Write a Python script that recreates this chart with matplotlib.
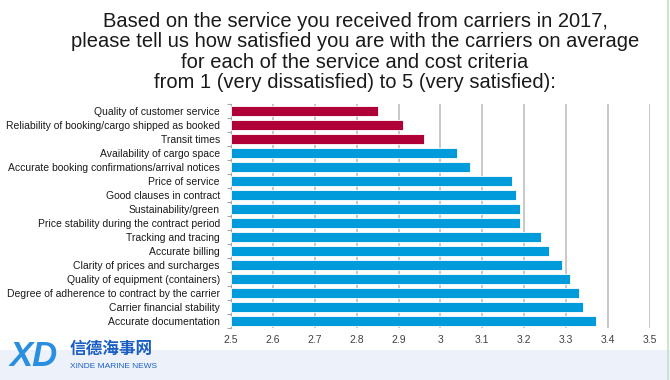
import matplotlib.pyplot as plt
from matplotlib.lines import Line2D
from matplotlib.patches import Rectangle

plt.rcParams['font.family'] = ['Liberation Sans', 'Noto Sans CJK SC', 'DejaVu Sans']

# 数据（从上到下）
categories = [
    'Quality of customer service',
    'Reliability of booking/cargo shipped as booked',
    'Transit times',
    'Availability of cargo space',
    'Accurate booking confirmations/arrival notices',
    'Price of service',
    'Good clauses in contract',
    'Sustainability/green',
    'Price stability during the contract period',
    'Tracking and tracing',
    'Accurate billing',
    'Clarity of prices and surcharges',
    'Quality of equipment (containers)',
    'Degree of adherence to contract by the carrier',
    'Carrier financial stability',
    'Accurate documentation',
]
scores = [2.85, 2.91, 2.96, 3.04, 3.07, 3.17, 3.18, 3.19, 3.19,
          3.24, 3.26, 3.29, 3.31, 3.33, 3.34, 3.37]
n_low = 3  # 最低的三项用红色

x_ticks = [2.5, 2.6, 2.7, 2.8, 2.9, 3.0, 3.1, 3.2, 3.3, 3.4, 3.5]
x_labels = ['2.5', '2.6', '2.7', '2.8', '2.9', '3', '3.1', '3.2', '3.3', '3.4', '3.5']

title = ('Based on the service you received from carriers in 2017,\n'
         'please tell us how satisfied you are with the carriers on average\n'
         'for each of the service and cost criteria\n'
         'from 1 (very dissatisfied) to 5 (very satisfied):')

red = '#B00038'
blue = '#009BDB'

fig = plt.figure(figsize=(6.7, 3.8), dpi=100)
fig.patch.set_facecolor('white')

# 底部水印条
fig.patches.append(Rectangle((0, 0), 1, 30 / 380, transform=fig.transFigure,
                             facecolor='#EDF1FA', edgecolor='none', zorder=0))
fig.lines.append(Line2D([668 / 670, 668 / 670], [0, 1], transform=fig.transFigure,
                        color='#BFE3C4', linewidth=1.2))

ax = fig.add_axes([231 / 670, 1 - 328 / 380, 419 / 670, 224 / 380])
ax.set_facecolor('none')

ypos = list(range(len(categories)))
colors = [red if i < n_low else blue for i in ypos]
ax.barh(ypos, [s - 2.5 for s in scores], left=2.5, height=0.68, color=colors,
        edgecolor='white', linewidth=0.6, zorder=3)

ax.set_xlim(2.5, 3.5)
ax.set_ylim(len(categories) - 0.5, -0.5)
ax.set_xticks(x_ticks)
ax.set_xticklabels(x_labels, fontsize=7.5, color='#404040')
ax.set_yticks(ypos)
ax.set_yticklabels(categories, fontsize=7.5, color='#1a1a1a')
ax.tick_params(axis='y', length=0, pad=8)
ax.tick_params(axis='x', length=0, pad=5)
ax.set_yticks([i - 0.5 for i in range(len(categories) + 1)], minor=True)
ax.tick_params(axis='y', which='minor', length=3, color='#A6A6A6', width=0.8)

ax.grid(axis='x', color='#C4C4C4', linewidth=1.3, zorder=0)
for s in ['top', 'right', 'bottom']:
    ax.spines[s].set_visible(False)
ax.spines['left'].set_color('#A6A6A6')
ax.spines['left'].set_linewidth(0.8)

fig.text(355 / 670, 1 - 52 / 380, title, ha='center', va='center',
         fontsize=14.5, color='#1a1a1a', linespacing=1.1)

# 水印标识
fig.text(10 / 670, 1 - 357 / 380, 'XD', fontsize=25, fontweight='bold',
         fontstyle='italic', color='#2A8FE0', ha='left', va='center')
fig.text(70 / 670, 1 - 349 / 380, '信德海事网', fontsize=12, fontweight='bold',
         color='#1A5EC4', ha='left', va='center')
fig.text(70 / 670, 1 - 366 / 380, 'XINDE MARINE NEWS', fontsize=6,
         color='#1A5EC4', ha='left', va='center')

fig.savefig('out.png', dpi=100)
